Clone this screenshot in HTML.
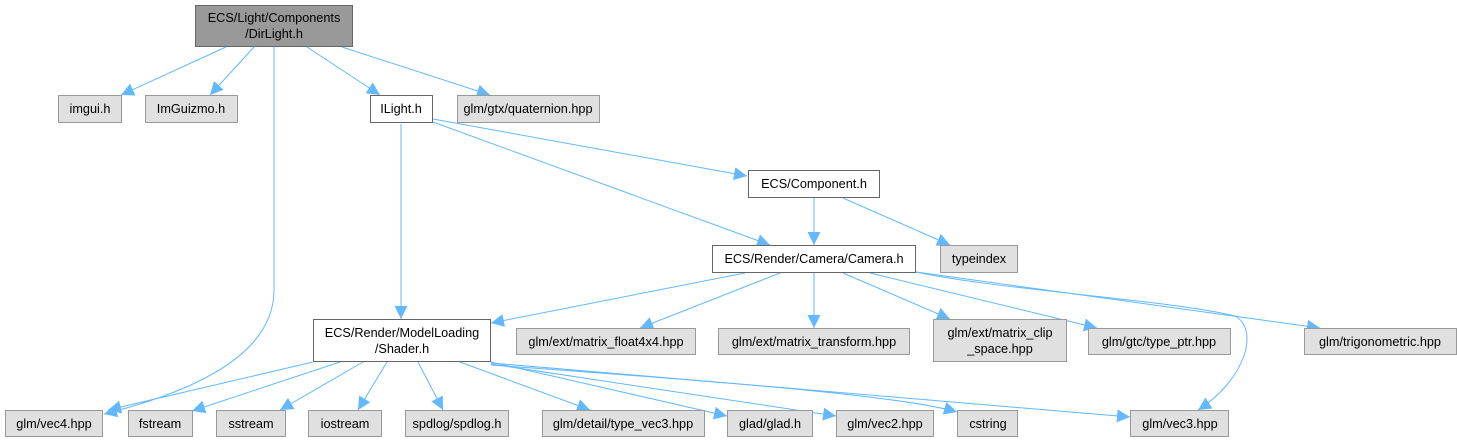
<!DOCTYPE html>
<html><head><meta charset="utf-8"><style>
html,body{margin:0;padding:0;background:#fff;width:1457px;height:443px;overflow:hidden}
svg{display:block}
text{font-family:"Liberation Sans",Arial,sans-serif;font-size:12.7px;fill:#000}
.g{fill:#e0e0e0;stroke:#999;stroke-width:1}
.w{fill:#fff;stroke:#666;stroke-width:1}
.r{fill:#999;stroke:#666;stroke-width:1}
.e{fill:none;stroke:#63b8ff;stroke-width:1}
</style></head><body>
<svg width="1457" height="443" viewBox="0 0 1457 443" xmlns="http://www.w3.org/2000/svg">
<defs><marker id="a" viewBox="0 0 10 10" refX="10" refY="5" markerWidth="13" markerHeight="13" markerUnits="userSpaceOnUse" orient="auto"><path d="M0,0 L10,5 L0,10 z" fill="#63b8ff"/></marker></defs>
<g class="e" marker-end="url(#a)">
<path d="M226,47 L121,95"/>
<path d="M254,47 L210,95"/>
<path d="M274,47 L274,290 C274,360 180,395 104,414"/>
<path d="M307,47 L380,95"/>
<path d="M342,47 L490,95"/>
<path d="M401,124 L401,319"/>
<path d="M433,119 L747,176"/>
<path d="M433,122 L770,245"/>
<path d="M814,198 L814,245"/>
<path d="M843,198 L950,245"/>
<path d="M745,273 L491,323"/>
<path d="M780,273 L640,328"/>
<path d="M814,273 L814,328"/>
<path d="M843,273 L950,319"/>
<path d="M870,273 L1097,328"/>
<path d="M916,272 L1320,328"/>
<path d="M916,272 C1000,290 1170,300 1235,316 C1260,330 1245,380 1198,410"/>
<path d="M313,362 L108,410"/>
<path d="M340,362 L192,411"/>
<path d="M363,362 L280,410"/>
<path d="M387,362 L358,410"/>
<path d="M418,362 L443,410"/>
<path d="M460,362 L590,410"/>
<path d="M491,362 L727,416"/>
<path d="M491,364 L836,416"/>
<path d="M491,365 C700,380 900,395 957,412"/>
<path d="M491,363 L1130,417"/>
</g>
<rect class="r" x="195.5" y="5.5" width="157" height="41"/>
<text x="274" y="22" text-anchor="middle">ECS/Light/Components</text>
<text x="274" y="38" text-anchor="middle">/DirLight.h</text>
<rect class="g" x="58.5" y="95.5" width="63" height="27"/><text x="90" y="113" text-anchor="middle">imgui.h</text>
<rect class="g" x="145.5" y="95.5" width="92" height="27"/><text x="191" y="113" text-anchor="middle">ImGuizmo.h</text>
<rect class="w" x="370.5" y="95.5" width="62" height="27"/><text x="401" y="113" text-anchor="middle">ILight.h</text>
<rect class="g" x="457.5" y="95.5" width="142" height="27"/><text x="528" y="113" text-anchor="middle">glm/gtx/quaternion.hpp</text>
<rect class="w" x="748.5" y="170.5" width="131" height="27"/><text x="814" y="188" text-anchor="middle">ECS/Component.h</text>
<rect class="w" x="712.5" y="245.5" width="203" height="27"/><text x="814" y="263" text-anchor="middle">ECS/Render/Camera/Camera.h</text>
<rect class="g" x="940.5" y="245.5" width="77" height="27"/><text x="979" y="263" text-anchor="middle">typeindex</text>
<rect class="w" x="313.5" y="319.5" width="177" height="42"/>
<text x="402" y="337" text-anchor="middle">ECS/Render/ModelLoading</text>
<text x="402" y="353" text-anchor="middle">/Shader.h</text>
<rect class="g" x="516.5" y="328.5" width="179" height="26"/><text x="606" y="346" text-anchor="middle">glm/ext/matrix_float4x4.hpp</text>
<rect class="g" x="718.5" y="328.5" width="191" height="26"/><text x="814" y="346" text-anchor="middle">glm/ext/matrix_transform.hpp</text>
<rect class="g" x="933.5" y="319.5" width="133" height="42"/>
<text x="1000" y="337" text-anchor="middle">glm/ext/matrix_clip</text>
<text x="1000" y="353" text-anchor="middle">_space.hpp</text>
<rect class="g" x="1088.5" y="328.5" width="142" height="26"/><text x="1159" y="346" text-anchor="middle">glm/gtc/type_ptr.hpp</text>
<rect class="g" x="1304.5" y="328.5" width="152" height="26"/><text x="1380" y="346" text-anchor="middle">glm/trigonometric.hpp</text>
<rect class="g" x="5.5" y="410.5" width="97" height="26"/><text x="54" y="428" text-anchor="middle">glm/vec4.hpp</text>
<rect class="g" x="128.5" y="410.5" width="64" height="26"/><text x="160" y="428" text-anchor="middle">fstream</text>
<rect class="g" x="216.5" y="410.5" width="69" height="26"/><text x="251" y="428" text-anchor="middle">sstream</text>
<rect class="g" x="308.5" y="410.5" width="73" height="26"/><text x="345" y="428" text-anchor="middle">iostream</text>
<rect class="g" x="405.5" y="410.5" width="103" height="26"/><text x="457" y="428" text-anchor="middle">spdlog/spdlog.h</text>
<rect class="g" x="542.5" y="410.5" width="162" height="26"/><text x="623" y="428" text-anchor="middle">glm/detail/type_vec3.hpp</text>
<rect class="g" x="727.5" y="410.5" width="85" height="26"/><text x="770" y="428" text-anchor="middle">glad/glad.h</text>
<rect class="g" x="836.5" y="410.5" width="97" height="26"/><text x="885" y="428" text-anchor="middle">glm/vec2.hpp</text>
<rect class="g" x="957.5" y="410.5" width="60" height="26"/><text x="988" y="428" text-anchor="middle">cstring</text>
<rect class="g" x="1130.5" y="410.5" width="98" height="26"/><text x="1180" y="428" text-anchor="middle">glm/vec3.hpp</text>
</svg>
</body></html>
